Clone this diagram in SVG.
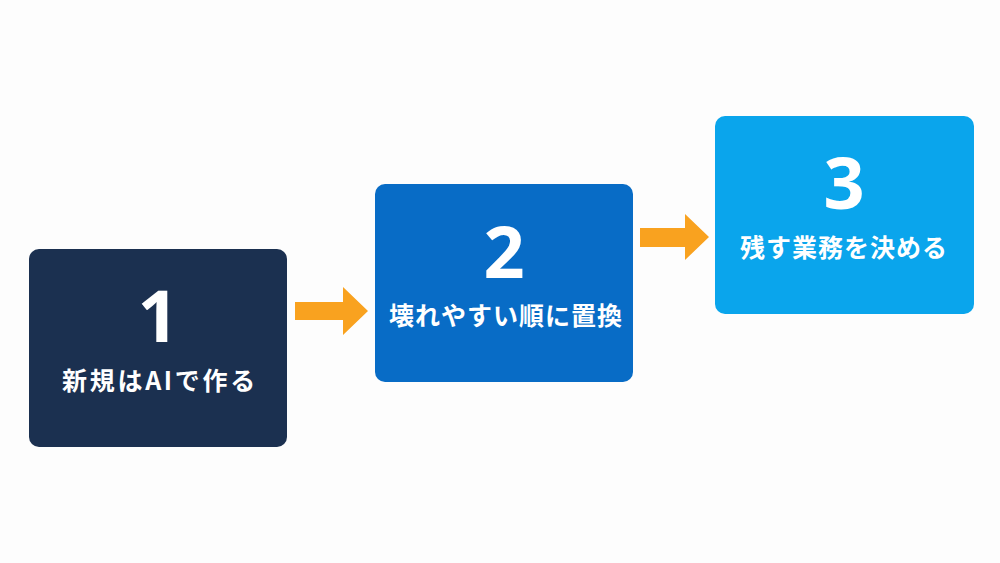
<svg xmlns="http://www.w3.org/2000/svg" width="1000" height="563" viewBox="0 0 1000 563">
<style>
.num{font-family:"Noto Sans","Noto Sans CJK JP",sans-serif;font-weight:700;font-size:72px;fill:#fff;text-anchor:middle}
.lbl{font-family:"Noto Sans CJK JP","Noto Sans",sans-serif;font-weight:700;font-size:25px;fill:#fff;text-anchor:middle}
.arrow{fill:#f9a21f}
</style>
<rect width="1000" height="563" fill="#fdfdfd"/>
<g id="connectors">
<path class="arrow" d="M295,302 H343 V287 L368,311 L343,335 V320 H295 Z"/>
<path class="arrow" d="M640,228 H685 V214 L709,237 L685,260 V247 H640 Z"/>
</g>
<g id="node1">
<rect x="29" y="249" width="258" height="198" rx="10" fill="#1b3050"/>
<text class="num" x="158" y="342">1</text>
<text class="lbl" x="160" y="390" letter-spacing="2.7">新規はAIで作る</text>
</g>
<g id="node2">
<rect x="375" y="184" width="258" height="198" rx="10" fill="#086cc6"/>
<text class="num" x="504" y="278">2</text>
<text class="lbl" x="506" y="325" letter-spacing="1">壊れやすい順に置換</text>
</g>
<g id="node3">
<rect x="715" y="116" width="259" height="198" rx="10" fill="#0aa5ec"/>
<text class="num" x="844" y="209">3</text>
<text class="lbl" x="844" y="257" letter-spacing="1">残す業務を決める</text>
</g>
</svg>
